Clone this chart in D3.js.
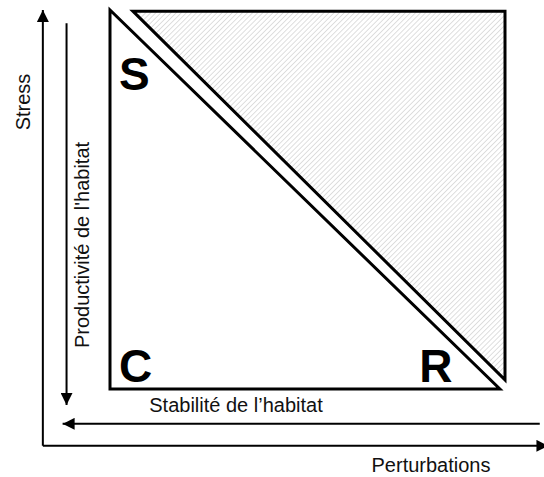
<!DOCTYPE html>
<html lang="fr">
<head>
    <meta charset="UTF-8">
    <title>Triangle C-S-R de Grime</title>
    <script src="https://d3js.org/d3.v7.min.js"></script>
    <style>
        body { margin: 0; background: #fff; }
        .axis-label { font: 20px "Liberation Sans", Arial, sans-serif; fill: #111; }
        .corner { font: bold 46px "Liberation Sans", Arial, sans-serif; fill: #000; }
        .edge { fill: none; stroke: #000; stroke-width: 3px; stroke-linejoin: miter; }
        .arrow { stroke: #000; stroke-width: 2px; }
    </style>
</head>
<body>
    <svg width="544" height="477"></svg>

    <script>
        // Diagram data (unit space 0..100)
        const csrTriangle = [[0, 0], [0, 100], [98.7, 0]];          // C, S, R
        const hatchTriangle = [[5.8, 99.7], [100, 99.7], [100, 2.4]];
        const cornerNames = ["C", "S", "R"];
        const cornerPos = [[2.3, 1.8], [2.3, 79], [78.3, 1.8]];

        // Outer gradient arrows: [label, from, to]
        const arrows = [
            { label: "Stress", from: [-17, -15], to: [-17, 100] },
            { label: "Perturbations", from: [-17, -15], to: [111, -15] },
            { label: "Productivité de l'habitat", from: [-11, 96.5], to: [-11, -4.2] },
            { label: "Stabilité de l’habitat", from: [108.8, -9.2], to: [-12, -9.2] }
        ];

        const svg = d3.select("svg");

        const x = d3.scaleLinear().domain([0, 100]).range([110, 505]);
        const y = d3.scaleLinear().domain([0, 100]).range([389, 10]);

        // hatch pattern
        const defs = svg.append("defs");
        const pat = defs.append("pattern")
            .attr("id", "hatch")
            .attr("patternUnits", "userSpaceOnUse")
            .attr("width", 3.6)
            .attr("height", 3.6)
            .attr("patternTransform", "rotate(45)");
        pat.append("rect").attr("width", 3.6).attr("height", 3.6).attr("fill", "#fff");
        pat.append("line")
            .attr("x1", 0).attr("y1", 0).attr("x2", 0).attr("y2", 3.6)
            .attr("stroke", "#c4c4c4").attr("stroke-width", 1.1);

        defs.append("marker")
            .attr("id", "head")
            .attr("viewBox", "0 0 12 12")
            .attr("refX", 12).attr("refY", 6)
            .attr("markerWidth", 12).attr("markerHeight", 12)
            .attr("markerUnits", "userSpaceOnUse")
            .attr("orient", "auto")
            .append("path")
            .attr("d", "M0,0 L12,6 L0,12 Z")
            .attr("fill", "#000");

        const poly = d3.line().x(d => x(d[0])).y(d => y(d[1]));

        svg.append("path")
            .attr("d", poly(hatchTriangle) + "Z")
            .attr("class", "edge")
            .style("fill", "url(#hatch)");

        svg.append("path")
            .attr("d", poly(csrTriangle) + "Z")
            .attr("class", "edge")
            .style("fill", "#fff");

        svg.selectAll(".corner")
            .data(cornerNames)
            .enter().append("text")
            .attr("class", "corner")
            .attr("x", (d, i) => x(cornerPos[i][0]))
            .attr("y", (d, i) => y(cornerPos[i][1]))
            .text(d => d);

        // arrows
        svg.selectAll(".arrow")
            .data(arrows)
            .enter().append("line")
            .attr("class", "arrow")
            .attr("x1", d => x(d.from[0]))
            .attr("y1", d => y(d.from[1]))
            .attr("x2", d => x(d.to[0]))
            .attr("y2", d => y(d.to[1]))
            .attr("marker-end", "url(#head)");

        // labels
        svg.append("text")
            .attr("class", "axis-label")
            .attr("transform", "translate(30,102) rotate(-90)")
            .style("text-anchor", "middle")
            .text(arrows[0].label);

        svg.append("text")
            .attr("class", "axis-label")
            .attr("x", 431).attr("y", 472)
            .style("text-anchor", "middle")
            .text(arrows[1].label);

        svg.append("text")
            .attr("class", "axis-label")
            .attr("transform", "translate(89,245) rotate(-90)")
            .style("text-anchor", "middle")
            .text(arrows[2].label);

        svg.append("text")
            .attr("class", "axis-label")
            .attr("x", 236).attr("y", 412)
            .style("text-anchor", "middle")
            .text(arrows[3].label);
    </script>
</body>
</html>
